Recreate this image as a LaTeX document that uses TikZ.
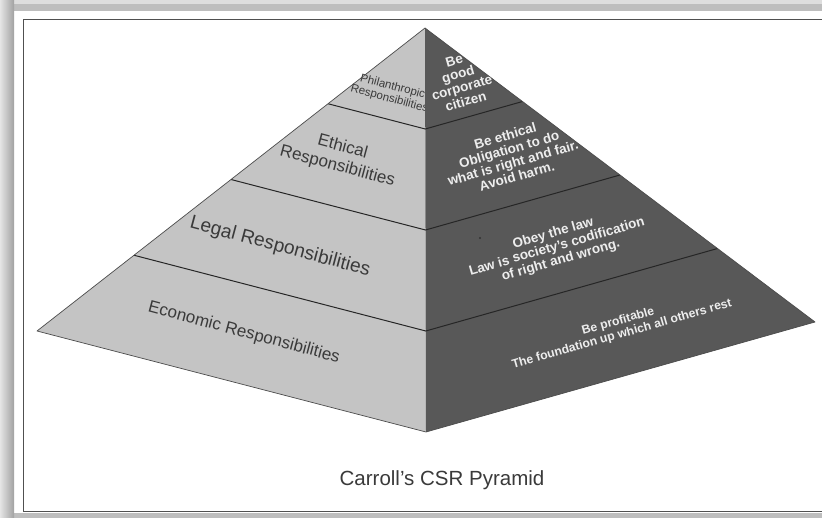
\documentclass[tikz,border=0pt]{standalone}
\usepackage{fontspec}
\setmainfont{Liberation Sans}
\usetikzlibrary{calc}

\definecolor{facelight}{HTML}{C4C4C4}
\definecolor{facedark}{HTML}{585858}
\definecolor{textdark}{HTML}{3A3A3A}
\definecolor{textlight}{HTML}{EDEDED}
\definecolor{bandlight}{HTML}{DEDEDE}
\definecolor{bandmid}{HTML}{BEBEBE}
\definecolor{framegray}{HTML}{505050}

\begin{document}
\begin{tikzpicture}[x=1pt,y=-1pt,
		leftlabel/.style={text=textdark, align=center, inner sep=0pt, rotate=-15},
		rightlabel/.style={text=textlight, align=center, inner sep=0pt, rotate=16,
			font=\bfseries\fontsize{13.5}{14}\selectfont},
		divider/.style={draw=black!85, line width=1pt},
		edge/.style={draw=black!70, line width=0.7pt, line join=round}
		]

		\useasboundingbox (0,0) rectangle (822,518);
		\fill[white] (0,0) rectangle (822,518);
		\fill[bandlight] (0,0) rectangle (822,4);
		\fill[bandmid] (0,4) rectangle (822,11);
		\fill[bandmid] (0,513) rectangle (822,518);
		\shade[left color=bandlight!80!white, right color=bandmid!85!black] (0,0) rectangle (14,518);
		\draw[framegray, line width=1.4pt] (822,19.5) -- (23.5,19.5) -- (23.5,511.5) -- (822,511.5);

		\coordinate (A) at (425,28);
		\coordinate (L) at (37,331);
		\coordinate (F) at (426,432);
		\coordinate (R) at (815,322);

		\fill[facelight] (A) -- (L) -- (F) -- cycle;

		\node[leftlabel, font=\fontsize{11.5}{12.5}\selectfont] (phil) at (391,93) {Philanthropic\\Responsibilities};
		\node[leftlabel, font=\fontsize{17}{20}\selectfont] (ethic) at (340,157) {Ethical\\Responsibilities};
		\node[leftlabel, font=\fontsize{19.2}{21}\selectfont] (legal) at (280,247) {Legal Responsibilities};
		\node[leftlabel, font=\fontsize{17}{19}\selectfont] (econ) at (244,333) {Economic Responsibilities};

		\fill[facedark] (A) -- (F) -- (R) -- cycle;

		\foreach \t in {0.25,0.5,0.75}
			\draw[divider] ($(A)!\t!(L)$) -- ($(A)!\t!(F)$) -- ($(A)!\t!(R)$);
		\draw[edge] (F) -- (L) -- (A) -- (R) -- (F);

		\node[rightlabel] (citizen) at (460,81) {Be\\good\\corporate\\citizen};
		\node[rightlabel] (ethical) at (511,156) {Be ethical\\Obligation to do\\what is right and fair.\\Avoid harm.};
		\node[rightlabel] (law) at (557,247) {Obey the law\\Law is society’s codification\\of right and wrong.};
		\node[rightlabel, font=\bfseries\fontsize{12.2}{13.5}\selectfont] (profit) at (620,328) {Be profitable\\The foundation up which all others rest};
		\fill[black!80] (480,238) circle (1.1);

		\node[text=textdark, font=\fontsize{20.5}{22}\selectfont] (title) at (442,480) {Carroll’s CSR Pyramid};
	\end{tikzpicture}
\end{document}
